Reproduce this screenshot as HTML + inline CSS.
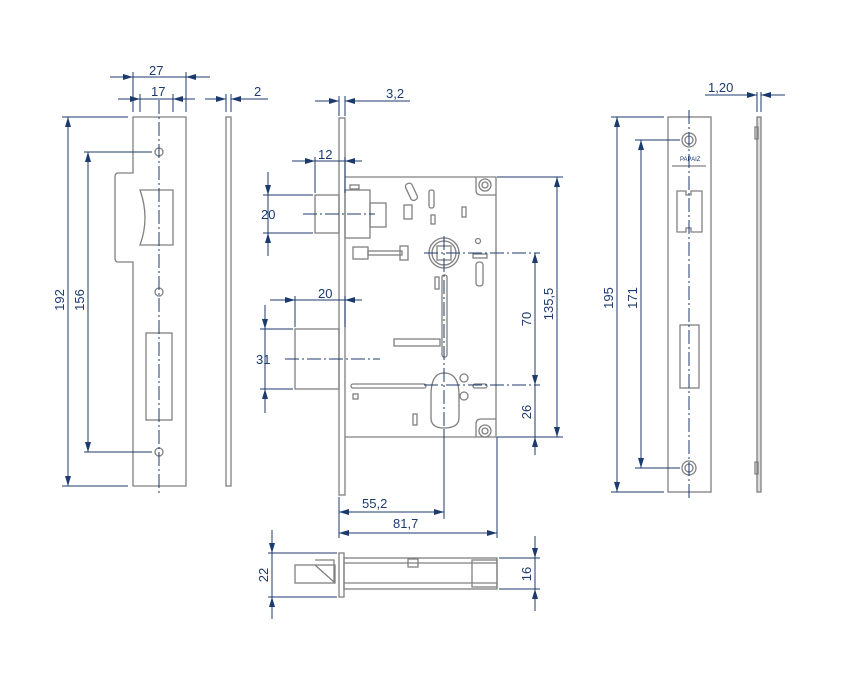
<!DOCTYPE html>
<html><head><meta charset="utf-8"><style>
html,body{margin:0;padding:0;background:#fff}
svg{display:block}
text{font-family:"Liberation Sans",sans-serif;font-size:13px;fill:#1c3a6e}
</style></head><body>
<svg width="859" height="678" viewBox="0 0 859 678" xmlns="http://www.w3.org/2000/svg">
<defs>
<marker id="a" viewBox="0 0 10 6" refX="10" refY="3" markerWidth="10" markerHeight="6" orient="auto-start-reverse" markerUnits="userSpaceOnUse">
<path d="M0,0 L10,3 L0,6 z" fill="#1c3a6e"/></marker>
</defs>
<g fill="none" stroke="#808080" stroke-width="1.3">
<path d="M133,117 H186 V486 H133 V262 H118 Q115,262 115,258 V177 Q115,173 118,173 H133 Z"/>
<path d="M140,190 H173 V245 H140 Q150,218 140,190 Z"/>
<rect x="146" y="333" width="26" height="87"/>
<circle cx="159" cy="152" r="4"/><circle cx="159" cy="292" r="4"/><circle cx="159" cy="452" r="4"/>
<rect x="226" y="117" width="5" height="369"/>
<rect x="339" y="118" width="6" height="377"/>
<path d="M345,177 H496 V437 H345"/>
<path d="M476,177 V190 Q476,195 481,195 H496"/>
<path d="M476,437 V424 Q476,419 481,419 H496"/>
<circle cx="485" cy="185" r="6"/><circle cx="485" cy="185" r="3"/>
<circle cx="485" cy="431" r="6"/><circle cx="485" cy="431" r="3"/>
<rect x="315" y="195" width="24" height="38"/>
<rect x="345" y="190" width="25" height="48"/>
<rect x="370" y="203" width="16" height="24"/>
<rect x="295" y="329" width="44" height="60"/>
<rect x="350" y="185" width="9" height="4"/>
<rect x="408" y="183" width="7" height="18" rx="3" transform="rotate(-25 411 192)"/>
<rect x="404" y="205" width="8" height="14"/>
<rect x="429" y="190" width="5" height="18" rx="2"/>
<rect x="431" y="215" width="4" height="9"/><rect x="462" y="207" width="4" height="10"/>
<circle cx="444" cy="253" r="15"/><circle cx="444" cy="253" r="12"/>
<rect x="437" y="246" width="14" height="14"/>
<circle cx="478" cy="241" r="2.5"/>
<rect x="353" y="247" width="15" height="12"/><rect x="368" y="251" width="34" height="4"/><rect x="400" y="246" width="8" height="14"/>
<rect x="473" y="254" width="14" height="4"/>
<rect x="476" y="262" width="7" height="24" rx="3"/>
<rect x="442" y="275" width="5" height="82" rx="2"/>
<rect x="435" y="277" width="4" height="12"/>
<rect x="394" y="339" width="46" height="7"/>
<rect x="351" y="384" width="75" height="4" rx="2"/>
<rect x="353" y="394" width="5" height="5"/>
<rect x="413" y="414" width="4" height="11"/>
<path d="M431,395 Q431,373 444,373 Q459,373 459,395 V418 Q459,428 444,428 Q431,428 431,418 Z"/>
<circle cx="464" cy="378" r="4"/><circle cx="464" cy="396" r="4"/>
<rect x="473" y="384" width="14" height="4" rx="2"/>
<rect x="339" y="553" width="5" height="44"/>
<rect x="344" y="558" width="153" height="31"/>
<line x1="344" y1="563" x2="497" y2="563"/><line x1="344" y1="583" x2="497" y2="583"/>
<rect x="472" y="560" width="25" height="27"/>
<rect x="295" y="565" width="40" height="18"/>
<path d="M315,565 L334,582 V560 H315"/>
<rect x="408" y="559" width="10" height="8"/>
<rect x="668" y="117" width="43" height="375"/>
<circle cx="689" cy="140" r="7"/><circle cx="689" cy="140" r="4"/>
<circle cx="689" cy="468" r="7"/><circle cx="689" cy="468" r="4"/>
<path d="M677,191 H686 V195 H691 V191 H702 V232 H691 V228 H686 V232 H677 Z"/>
<rect x="680" y="325" width="19" height="63"/>
<line x1="672" y1="166" x2="706" y2="166"/>
<rect x="757" y="117" width="4" height="375" fill="#ddd"/>
<rect x="755" y="127" width="3" height="12"/><rect x="755" y="462" width="3" height="12"/>
</g>
<text x="680" y="161" style="font-size:6px">PAPAIZ</text>
<g stroke="#1c3a6e" stroke-width="1" fill="none" stroke-dasharray="14,3,2,3">
<line x1="159" y1="100" x2="159" y2="494"/>
<line x1="689" y1="110" x2="689" y2="498"/>
<line x1="444" y1="236" x2="444" y2="520"/>
<line x1="303" y1="214" x2="375" y2="214"/>
<line x1="285" y1="359" x2="380" y2="359"/>
<line x1="424" y1="253" x2="540" y2="253"/>
<line x1="424" y1="385" x2="540" y2="385"/>
</g>
<g stroke="#1c3a6e" stroke-width="1" fill="none">
<path d="M133,72V112 M186,72V112 M140,94V112 M173,94V112 M226,94V112 M231,94V112"/>
<path d="M62,117H128 M62,486H128 M84,152H152 M84,452H152"/>
<path d="M339,96V116 M345,96V116 M315,157V193 M345,157V193 M295,296V327 M345,296V327"/>
<path d="M263,195H313 M263,233H313 M260,329H293 M260,389H293"/>
<path d="M497,177H563 M497,437H563 M339,497V538 M497,437V538 M444,430V517"/>
<path d="M611,117H664 M635,140H680 M611,492H664 M635,468H680"/>
<path d="M757,92V112 M761,92V112"/>
<path d="M268,553H337 M268,597H337 M499,558H540 M499,589H540"/>
<line x1="110" y1="77" x2="133" y2="77" marker-end="url(#a)"/><line x1="133" y1="77" x2="186" y2="77"/><line x1="210" y1="77" x2="186" y2="77" marker-end="url(#a)"/>
<line x1="118" y1="99" x2="140" y2="99" marker-end="url(#a)"/><line x1="140" y1="99" x2="173" y2="99"/><line x1="195" y1="99" x2="173" y2="99" marker-end="url(#a)"/>
<line x1="205" y1="99" x2="226" y2="99" marker-end="url(#a)"/><line x1="268" y1="99" x2="231" y2="99" marker-end="url(#a)"/>
<line x1="68" y1="117" x2="68" y2="486" marker-start="url(#a)" marker-end="url(#a)"/>
<line x1="88" y1="152" x2="88" y2="452" marker-start="url(#a)" marker-end="url(#a)"/>
<line x1="315" y1="101" x2="339" y2="101" marker-end="url(#a)"/><line x1="410" y1="101" x2="345" y2="101" marker-end="url(#a)"/>
<line x1="292" y1="161" x2="315" y2="161" marker-end="url(#a)"/><line x1="315" y1="161" x2="345" y2="161"/><line x1="362" y1="161" x2="345" y2="161" marker-end="url(#a)"/>
<line x1="270" y1="300" x2="295" y2="300" marker-end="url(#a)"/><line x1="295" y1="300" x2="345" y2="300"/><line x1="362" y1="300" x2="345" y2="300" marker-end="url(#a)"/>
<line x1="268" y1="172" x2="268" y2="195" marker-end="url(#a)"/><line x1="268" y1="195" x2="268" y2="233"/><line x1="268" y1="256" x2="268" y2="233" marker-end="url(#a)"/>
<line x1="265" y1="305" x2="265" y2="329" marker-end="url(#a)"/><line x1="265" y1="329" x2="265" y2="389"/><line x1="265" y1="413" x2="265" y2="389" marker-end="url(#a)"/>
<line x1="557" y1="177" x2="557" y2="437" marker-start="url(#a)" marker-end="url(#a)"/>
<line x1="535" y1="253" x2="535" y2="385" marker-start="url(#a)" marker-end="url(#a)"/>
<line x1="535" y1="385" x2="535" y2="437"/><line x1="535" y1="455" x2="535" y2="437" marker-end="url(#a)"/>
<line x1="339" y1="512" x2="444" y2="512" marker-start="url(#a)" marker-end="url(#a)"/>
<line x1="339" y1="533" x2="497" y2="533" marker-start="url(#a)" marker-end="url(#a)"/>
<line x1="617" y1="117" x2="617" y2="492" marker-start="url(#a)" marker-end="url(#a)"/>
<line x1="641" y1="140" x2="641" y2="468" marker-start="url(#a)" marker-end="url(#a)"/>
<line x1="705" y1="95" x2="757" y2="95" marker-end="url(#a)"/><line x1="785" y1="95" x2="761" y2="95" marker-end="url(#a)"/>
<line x1="272" y1="530" x2="272" y2="553" marker-end="url(#a)"/><line x1="272" y1="553" x2="272" y2="597"/><line x1="272" y1="619" x2="272" y2="597" marker-end="url(#a)"/>
<line x1="535" y1="536" x2="535" y2="558" marker-end="url(#a)"/><line x1="535" y1="558" x2="535" y2="589"/><line x1="535" y1="611" x2="535" y2="589" marker-end="url(#a)"/>
</g>
<text x="149" y="75">27</text>
<text x="151" y="96">17</text>
<text x="254" y="96">2</text>
<text x="386" y="98">3,2</text>
<text x="318" y="159">12</text>
<text x="318" y="298">20</text>
<text x="261" y="219">20</text>
<text x="256" y="364">31</text>
<text x="362" y="508">55,2</text>
<text x="393" y="528">81,7</text>
<text x="708" y="92">1,20</text>
<text transform="translate(64,300) rotate(-90)" text-anchor="middle">192</text>
<text transform="translate(84,300) rotate(-90)" text-anchor="middle">156</text>
<text transform="translate(553,304) rotate(-90)" text-anchor="middle">135,5</text>
<text transform="translate(531,319) rotate(-90)" text-anchor="middle">70</text>
<text transform="translate(531,412) rotate(-90)" text-anchor="middle">26</text>
<text transform="translate(613,298) rotate(-90)" text-anchor="middle">195</text>
<text transform="translate(637,298) rotate(-90)" text-anchor="middle">171</text>
<text transform="translate(268,575) rotate(-90)" text-anchor="middle">22</text>
<text transform="translate(531,574) rotate(-90)" text-anchor="middle">16</text>
</svg>
</body></html>
